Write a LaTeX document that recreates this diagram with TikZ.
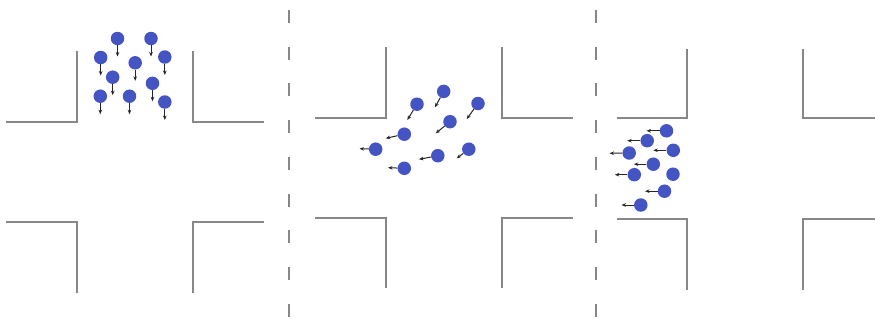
\documentclass[tikz,border=0pt]{standalone}
\usetikzlibrary{arrows.meta}
\definecolor{roadgray}{RGB}{135,135,135}
\definecolor{pedblue}{RGB}{68,84,194}
\tikzset{
  road/.style={draw=roadgray,line width=1.8pt},
  lane/.style={draw=roadgray,line width=1.6pt,dash pattern=on 13pt off 23.7pt},
  ped/.style={circle,fill=pedblue,inner sep=0pt,minimum size=13.5pt},
  walk/.style={-{Stealth[length=4.5pt,width=3.6pt]},line width=1pt,black!85},
}
\begin{document}
\begin{tikzpicture}[x=1pt,y=-1pt,line cap=butt,line join=miter]
\useasboundingbox (0,0) rectangle (875,324);
\draw[lane] (289,10)--(289,324);
\draw[lane] (596,10)--(596,324);
\draw[road] (6,122)--(77,122)--(77,51);
\draw[road] (193,51)--(193,122)--(264,122);
\draw[road] (6,222)--(77,222)--(77,293);
\draw[road] (193,293)--(193,222)--(264,222);
\draw[road] (315,118)--(386,118)--(386,47);
\draw[road] (502,47)--(502,118)--(573,118);
\draw[road] (315,218)--(386,218)--(386,288);
\draw[road] (502,288)--(502,218)--(573,218);
\draw[road] (617,118)--(687,118)--(687,49);
\draw[road] (803,49)--(803,118)--(875,118);
\draw[road] (617,219)--(687,219)--(687,290);
\draw[road] (803,290)--(803,219)--(875,219);
\node[ped] (a1) at (117.5,38.5) {}; \coordinate (a1e) at (117.5,56.5); \draw[walk] (a1)--(a1e);
\node[ped] (a2) at (151,38.5) {}; \coordinate (a2e) at (151,56.5); \draw[walk] (a2)--(a2e);
\node[ped] (a3) at (100.7,57.5) {}; \coordinate (a3e) at (100.7,75.5); \draw[walk] (a3)--(a3e);
\node[ped] (a4) at (164.8,57) {}; \coordinate (a4e) at (164.8,75); \draw[walk] (a4)--(a4e);
\node[ped] (a5) at (135.2,62.8) {}; \coordinate (a5e) at (135.2,80.8); \draw[walk] (a5)--(a5e);
\node[ped] (a6) at (112.7,77.2) {}; \coordinate (a6e) at (112.7,95.2); \draw[walk] (a6)--(a6e);
\node[ped] (a7) at (152.5,83.3) {}; \coordinate (a7e) at (152.5,101.3); \draw[walk] (a7)--(a7e);
\node[ped] (a8) at (100.3,96.2) {}; \coordinate (a8e) at (100.3,114.2); \draw[walk] (a8)--(a8e);
\node[ped] (a9) at (129.5,96.2) {}; \coordinate (a9e) at (129.5,114.2); \draw[walk] (a9)--(a9e);
\node[ped] (a10) at (164.8,102) {}; \coordinate (a10e) at (164.8,120); \draw[walk] (a10)--(a10e);
\node[ped] (b1) at (443.7,91.4) {}; \coordinate (b1e) at (435,107.3); \draw[walk] (b1)--(b1e);
\node[ped] (b2) at (417,104.2) {}; \coordinate (b2e) at (407.3,120); \draw[walk] (b2)--(b2e);
\node[ped] (b3) at (478,103.5) {}; \coordinate (b3e) at (466.7,119); \draw[walk] (b3)--(b3e);
\node[ped] (b4) at (450,121.7) {}; \coordinate (b4e) at (435.7,133.3); \draw[walk] (b4)--(b4e);
\node[ped] (b5) at (404.3,134.2) {}; \coordinate (b5e) at (385.7,138.3); \draw[walk] (b5)--(b5e);
\node[ped] (b6) at (375.7,149.2) {}; \coordinate (b6e) at (359.5,148.7); \draw[walk] (b6)--(b6e);
\node[ped] (b7) at (437.8,155.7) {}; \coordinate (b7e) at (419,159.3); \draw[walk] (b7)--(b7e);
\node[ped] (b8) at (468.8,149.2) {}; \coordinate (b8e) at (456.7,158.3); \draw[walk] (b8)--(b8e);
\node[ped] (b9) at (404.3,168.3) {}; \coordinate (b9e) at (388,167.7); \draw[walk] (b9)--(b9e);
\node[ped] (c1) at (666.5,130.8) {}; \coordinate (c1e) at (646.5,130.8); \draw[walk] (c1)--(c1e);
\node[ped] (c2) at (647.2,140.7) {}; \coordinate (c2e) at (627.2,140.7); \draw[walk] (c2)--(c2e);
\node[ped] (c3) at (673.3,150.3) {}; \coordinate (c3e) at (653.3,150.3); \draw[walk] (c3)--(c3e);
\node[ped] (c4) at (629.2,153) {}; \coordinate (c4e) at (609.5,153.3); \draw[walk] (c4)--(c4e);
\node[ped] (c5) at (653.3,164.2) {}; \coordinate (c5e) at (633.8,164.2); \draw[walk] (c5)--(c5e);
\node[ped] (c6) at (634.3,174.7) {}; \coordinate (c6e) at (614.8,174.7); \draw[walk] (c6)--(c6e);
\node[ped] (c7) at (673,174.2) {};
\node[ped] (c8) at (664.5,191.2) {}; \coordinate (c8e) at (645,191.2); \draw[walk] (c8)--(c8e);
\node[ped] (c9) at (640.8,205) {}; \coordinate (c9e) at (621.5,205); \draw[walk] (c9)--(c9e);
\end{tikzpicture}
\end{document}
